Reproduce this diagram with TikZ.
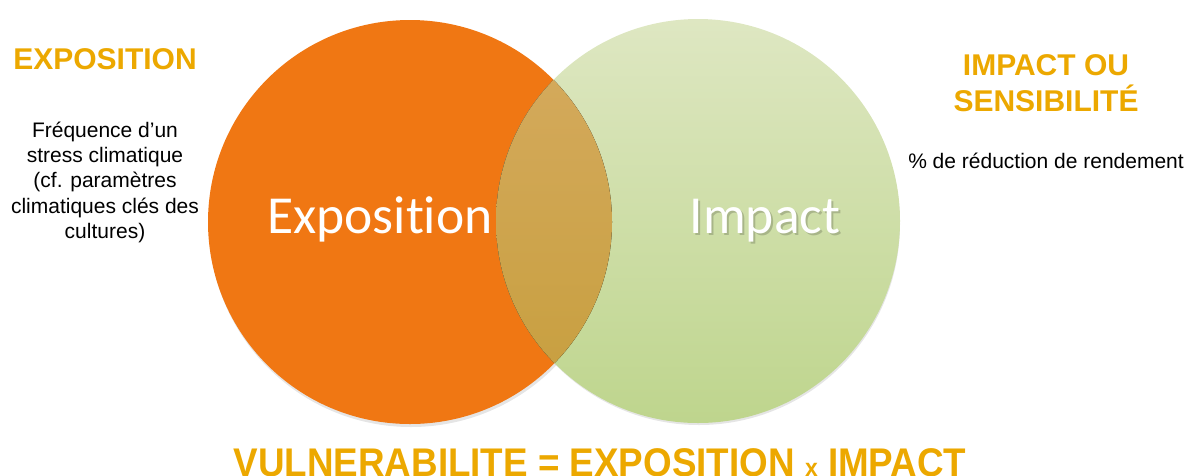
\documentclass[tikz,border=0pt]{standalone}
\usepackage{fontspec}
\setmainfont{Liberation Sans}
\newfontfamily\calibrifont[Ligatures=NoCommon]{Carlito}
\definecolor{titleGold}{RGB}{236,168,0}
\definecolor{expoOrange}{RGB}{240,119,19}
\definecolor{greenTop}{RGB}{222,231,194}
\definecolor{greenBot}{RGB}{190,213,141}
\definecolor{mixTop}{RGB}{214,171,96}
\definecolor{mixBot}{RGB}{198,158,60}
\begin{document}
\begin{tikzpicture}[x=1pt, y=-1pt,
  title/.style={text=titleGold, font=\fontsize{30}{36}\selectfont\bfseries, align=center, inner sep=0pt},
  desc/.style={text=black, font=\fontsize{21}{25.3}\selectfont, align=center, inner sep=0pt},
  setlabel/.style={text=white, font=\calibrifont\fontsize{53.5}{60}\selectfont, inner sep=0pt},
  setcircle/.style={circle, draw=none, minimum size=404pt, inner sep=0pt}]
\useasboundingbox (0,0) rectangle (1190,475);
%%%%%%%%%%%%%%%%%%%%%%%%%%%%%%% Venn circles
\fill[black, opacity=0.10] (411,225) circle (202);
\fill[black, opacity=0.10] (699,224) circle (201);
\node[setcircle, fill=expoOrange](cExpo) at (410,222){};
\node[setcircle, top color=greenTop, bottom color=greenBot](cImpact) at (698,221){};
\begin{scope}
\clip (698,221) circle (202);
\fill[top color=mixTop, bottom color=mixBot] (410,222) circle (202);
\end{scope}
\node[setlabel, anchor=base](lExpo) at (380,233){Exposition};
\node[setlabel, anchor=base, text=black, opacity=0.18](lImpactShade) at (767,235){Impact};
\node[setlabel, anchor=base](lImpact) at (765,233){Impact};
%%%%%%%%%%%%%%%%%%%%%%%%%%%%%%% Side texts
\node[title, anchor=base](hExpo) at (105,69){EXPOSITION};
\node[desc, anchor=north](dExpo) at (105,121.5){Fréquence d’un\\stress climatique\\(cf. paramètres\\climatiques clés des\\cultures)};
\node[title, anchor=north](hImpact) at (1046,54){IMPACT OU\\SENSIBILITÉ};
\node[desc, anchor=base](dImpact) at (1046,168){\% de réduction de rendement};
%%%%%%%%%%%%%%%%%%%%%%%%%%%%%%% Formula
\node[title, font=\fontsize{40}{48}\selectfont\bfseries, anchor=base, xscale=0.92, transform shape](formula) at (600,476){VULNERABILITE = EXPOSITION {\fontsize{25}{30}\selectfont x} IMPACT};
\end{tikzpicture}
\end{document}
